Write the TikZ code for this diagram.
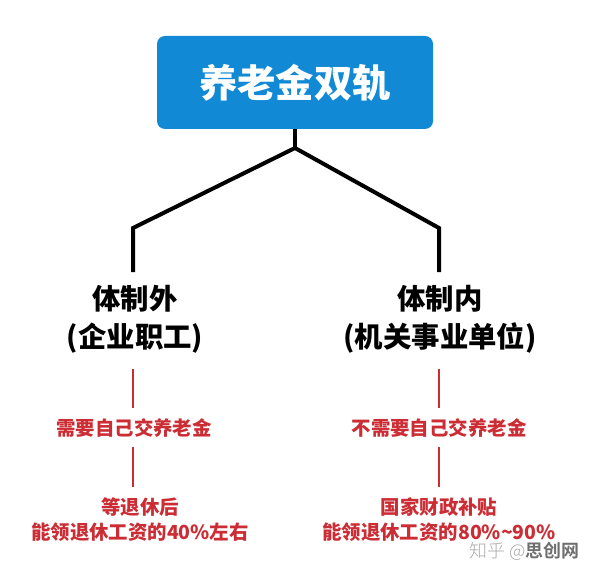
\documentclass[tikz,border=0pt]{standalone}
\usepackage{fontspec}
\newfontfamily\cjkb{Noto Sans CJK SC Bold}
\newfontfamily\cjkk{Noto Sans CJK SC Black}
\newfontfamily\cjkl{Noto Sans CJK SC Light}
\definecolor{boxblue}{RGB}{18,137,212}
\definecolor{txtred}{RGB}{204,44,52}
\definecolor{wmgray}{RGB}{170,170,170}
\definecolor{wmdark}{RGB}{110,110,110}
\begin{document}
\begin{tikzpicture}[x=1bp,y=-1bp,
  titlebox/.style={fill=boxblue,rounded corners=8bp,minimum width=276bp,minimum height=93bp,inner sep=0pt,text=white,font=\cjkk\fontsize{38.5}{40}\selectfont},
  cat/.style={align=center,inner sep=0pt,font=\cjkk\fontsize{28.5}{38}\selectfont},
  rednote/.style={align=center,inner sep=0pt,text=txtred,font=\cjkk\fontsize{19.5}{25}\selectfont},
  blackline/.style={line width=4bp,draw=black},
  redline/.style={line width=2.5bp,draw=txtred}]
\useasboundingbox (0,0) rectangle (596,572);
\fill[white] (0,0) rectangle (596,572);
\node[titlebox] (top) at (295,82.5) {养老金双轨};
\coordinate (j) at (295,148);
\coordinate (lc) at (133,228);
\coordinate (rc) at (439,228);
\coordinate (le) at (133,272);
\coordinate (re) at (439,272);
\draw[blackline] (top.south) -- (j);
\draw[blackline,line join=miter] (le) -- (lc) -- (j) -- (rc) -- (re);
\node[cat] (left) at (135,319) {体制外\\(企业职工)};
\node[cat] (right) at (440,319) {体制内\\(机关事业单位)};
\coordinate (l1a) at (133,369);
\coordinate (l1b) at (133,408);
\coordinate (r1a) at (439,369);
\coordinate (r1b) at (439,408);
\draw[redline] (l1a) -- (l1b);
\draw[redline] (r1a) -- (r1b);
\node[rednote] (ln1) at (134,428) {需要自己交养老金};
\node[rednote] (rn1) at (439,428) {不需要自己交养老金};
\coordinate (l2a) at (133,447);
\coordinate (l2b) at (133,487);
\coordinate (r2a) at (439,447);
\coordinate (r2b) at (439,487);
\draw[redline] (l2a) -- (l2b);
\draw[redline] (r2a) -- (r2b);
\node[rednote] (ln2) at (140,519.5) {等退休后\\能领退休工资的40\%左右};
\node[rednote] (rn2) at (439,519.5) {国家财政补贴\\能领退休工资的80\%\textasciitilde 90\%};
\node[anchor=west,inner sep=0pt,font=\fontsize{18}{20}\selectfont] (wm) at (469,551) {{\cjkl\color{wmgray}知乎 @}{\cjkb\color{wmdark}思创网}};
\end{tikzpicture}
\end{document}
